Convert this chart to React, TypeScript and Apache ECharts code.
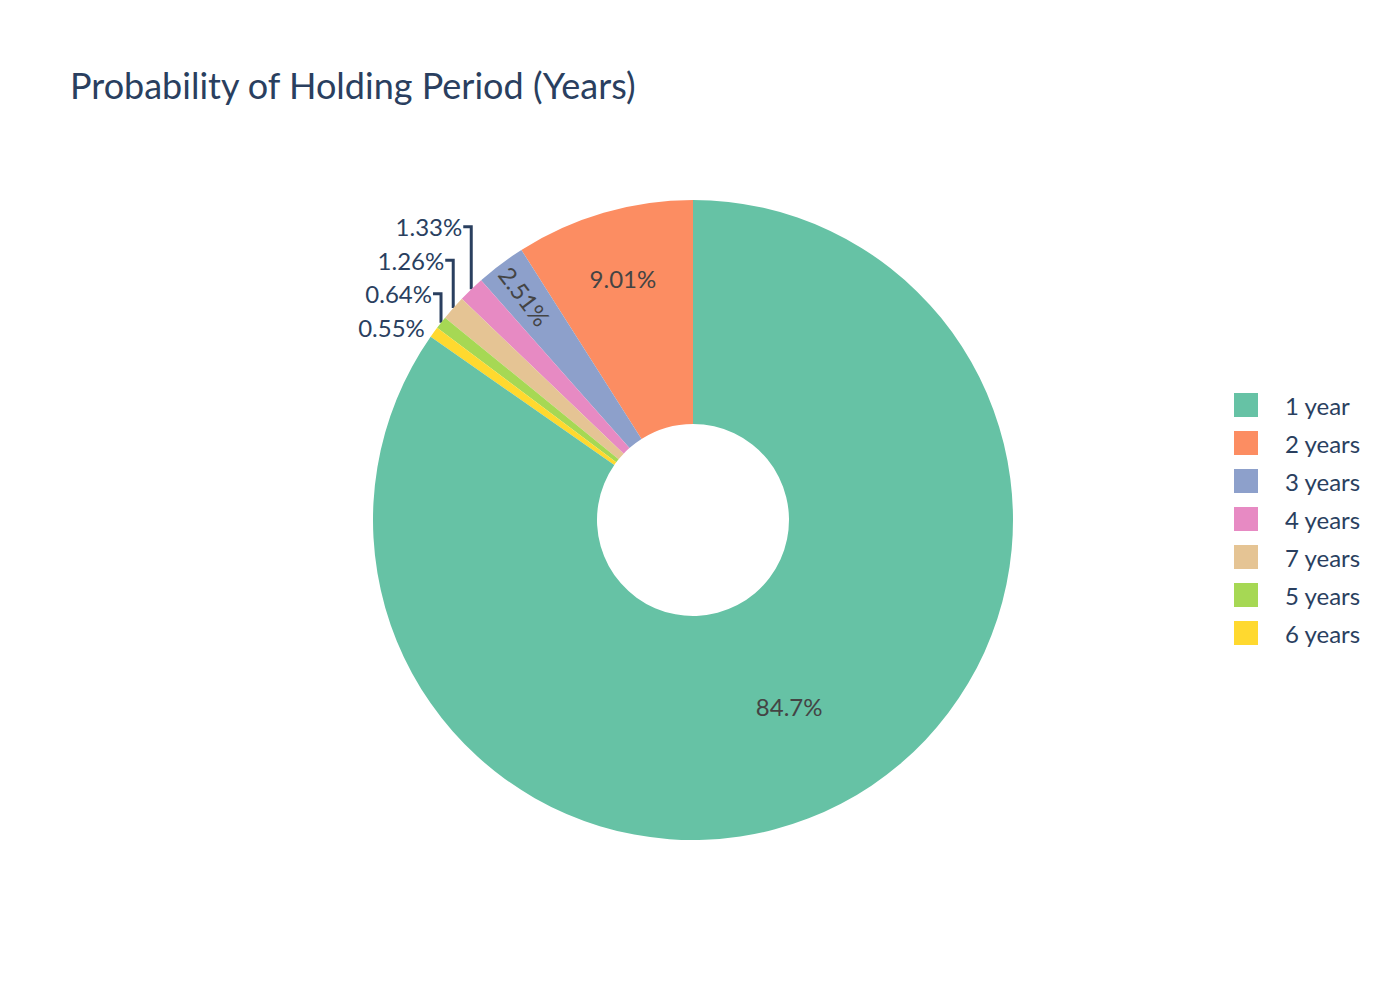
import { useEffect, useRef } from 'react'
import * as echarts from 'echarts'

// slice order as drawn, counter-clockwise from 12 o'clock
const categories = ['2 years', '3 years', '4 years', '7 years', '5 years', '6 years', '1 year']
const shares = [9.01, 2.51, 1.33, 1.26, 0.64, 0.55, 84.7]
const colors = ['#fc8d62', '#8da0cb', '#e78ac3', '#e5c494', '#a6d854', '#ffd92f', '#66c2a5']
// legend order (descending)
const legendOrder = ['1 year', '2 years', '3 years', '4 years', '7 years', '5 years', '6 years']

const CX = 693
const CY = 520
const R_OUT = 320
const R_IN = 96
const FONT = 'Lato, "Source Sans Pro", "Noto Sans", sans-serif'
const INK = '#2a3f5f'

const outsideIdx = [2, 3, 4, 5]
const total = shares.reduce((a, b) => a + b, 0)

function midAngle(i: number) {
  let cum = 0
  for (let k = 0; k < i; k++) cum += shares[k]
  return ((cum + shares[i] / 2) / total) * 2 * Math.PI
}

function pointAt(i: number, r: number) {
  const a = midAngle(i)
  return [CX - Math.sin(a) * r, CY - Math.cos(a) * r]
}

// stack outside labels upward, starting from the last small slice
const outsideY: Record<number, number> = {}
let prevY = Infinity
for (let j = outsideIdx.length - 1; j >= 0; j--) {
  const i = outsideIdx[j]
  const ay = pointAt(i, R_OUT)[1] - 5
  const y = Math.min(ay, prevY - 33.5)
  outsideY[i] = y
  prevY = y
}

export default function App() {
  const chartRef = useRef<HTMLDivElement>(null)

  useEffect(() => {
    if (!chartRef.current) return
    document.body.style.margin = '0'
    const chart = echarts.init(chartRef.current, null, { renderer: 'svg' })

    const data = categories.map((name, i) => {
      const outside = outsideIdx.includes(i)
      const item: any = {
        name,
        value: shares[i],
        itemStyle: { color: colors[i] },
        label: {
          position: outside ? 'outside' : 'inside',
          color: outside ? INK : '#444444'
        },
        labelLine: { show: outside && i !== 5 }
      }
      if (name === '3 years') item.label.rotate = -53
      return item
    })

    chart.setOption({
      animation: false,
      backgroundColor: '#ffffff',
      title: {
        text: 'Probability of Holding Period (Years)',
        left: 65,
        top: 62,
        textStyle: { fontFamily: FONT, fontSize: 36, fontWeight: 'normal', color: INK }
      },
      legend: {
        orient: 'vertical',
        left: 1229,
        top: 388,
        data: legendOrder,
        icon: 'rect',
        itemWidth: 24,
        itemHeight: 24,
        itemGap: 14,
        textStyle: { fontFamily: FONT, fontSize: 24, color: INK, padding: [0, 0, 0, 22] }
      },
      series: [
        {
          type: 'pie',
          center: [CX, CY],
          radius: [R_IN, R_OUT],
          startAngle: 90,
          clockwise: false,
          avoidLabelOverlap: false,
          itemStyle: { borderWidth: 0 },
          label: {
            fontFamily: FONT,
            fontSize: 24,
            formatter: (p: any) => `${p.value}%`
          },
          labelLine: { lineStyle: { color: INK, width: 3 } },
          emphasis: { disabled: true },
          labelLayout: (params: any) => {
            const i = params.dataIndex
            if (outsideIdx.includes(i)) {
              const [ax, ay] = pointAt(i, R_OUT)
              const ly = outsideY[i]
              return {
                x: ax - 9,
                y: ly,
                align: 'right',
                verticalAlign: 'middle',
                labelLinePoints: [[ax, ay], [ax, ly], [ax - 8, ly]]
              }
            }
            if (categories[i] === '2 years') {
              const [x, y] = pointAt(i, 251)
              return { x, y, align: 'center', verticalAlign: 'middle' }
            }
            if (categories[i] === '3 years') {
              const [x, y] = pointAt(i, 280)
              return { x, y, align: 'center', verticalAlign: 'middle' }
            }
            const [x, y] = pointAt(i, 208)
            return { x, y: y + 2, align: 'center', verticalAlign: 'middle' }
          },
          data
        }
      ]
    })

    return () => {
      chart.dispose()
    }
  }, [])

  return <div ref={chartRef} style={{ width: '1400px', height: '1000px' }} />
}
